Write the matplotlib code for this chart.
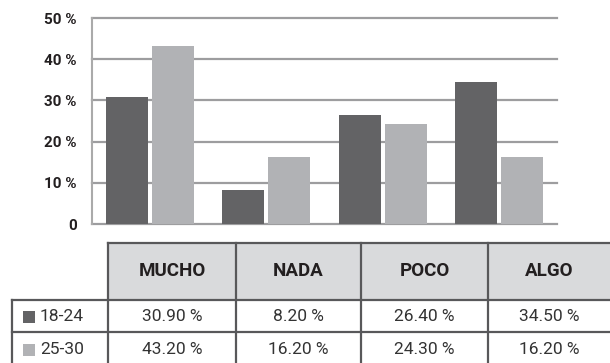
import matplotlib
matplotlib.use("Agg")
import matplotlib.pyplot as plt
from matplotlib.patches import Rectangle
from matplotlib.lines import Line2D
import numpy as np

categories = ["MUCHO", "NADA", "POCO", "ALGO"]
series_names = ["18-24", "25-30"]
values_18_24 = [30.90, 8.20, 26.40, 34.50]
values_25_30 = [43.20, 16.20, 24.30, 16.20]
y_ticks = [0, 10, 20, 30, 40, 50]
y_tick_labels = ["0", "10 %", "20 %", "30 %", "40 %", "50 %"]

dark = "#636365"
light = "#b1b2b5"
grid_c = "#9d9d9f"
border_c = "#58585a"
header_fill = "#d9dadc"
text_c = "#231f20"

W, H = 610, 363
fig = plt.figure(figsize=(W / 100, H / 100), dpi=100)

def fx(px):
    return px / W

def fy(py):
    return 1 - py / H

# bar axes
ax = fig.add_axes([fx(92), fy(224), fx(557) - fx(92), fy(18) - fy(224)])
x = np.arange(len(categories))
bw = 0.361
off = 0.198
ax.bar(x - off, values_18_24, bw, color=dark, zorder=2)
ax.bar(x + off, values_25_30, bw, color=light, zorder=2)
ax.set_xlim(-0.5, 3.5)
ax.set_ylim(0, 50)
for t in y_ticks:
    ax.axhline(t, color=grid_c, lw=1.6, zorder=0, clip_on=False)
for s in ["top", "right", "bottom"]:
    ax.spines[s].set_visible(False)
ax.spines["left"].set_color("#aaaaaa")
ax.spines["left"].set_linewidth(1.5)
ax.set_xticks([])
ax.set_yticks(y_ticks)
ax.set_yticklabels(y_tick_labels, fontfamily="Roboto", fontweight="bold",
                   fontsize=11, color=text_c)
ax.tick_params(axis="y", length=0, pad=11)

# table
col_edges = [108, 236, 361, 488, 640]
label_left = 12
y_top, y_hdr, y_r1, y_bot = 243, 300, 332, 380

fig.add_artist(Rectangle((fx(col_edges[0]), fy(y_hdr)), fx(col_edges[-1]) - fx(col_edges[0]),
                         fy(y_top) - fy(y_hdr), transform=fig.transFigure,
                         facecolor=header_fill, edgecolor="none", zorder=1))

def hline(y, x0, x1):
    fig.add_artist(Line2D([fx(x0), fx(x1)], [fy(y), fy(y)], transform=fig.transFigure,
                          color=border_c, lw=1.6, zorder=3))

def vline(x_, y0, y1):
    fig.add_artist(Line2D([fx(x_), fx(x_)], [fy(y0), fy(y1)], transform=fig.transFigure,
                          color=border_c, lw=1.6, zorder=3))

hline(y_top, col_edges[0], col_edges[-1])
hline(y_hdr, label_left, col_edges[-1])
hline(y_r1, label_left, col_edges[-1])
vline(label_left, y_hdr, y_bot)
for cx in col_edges[:-1]:
    vline(cx, y_top, y_bot)

col_centers = [172, 298.5, 424.5, 549]
for c, cat in zip(col_centers, categories):
    fig.text(fx(c), fy(271.5), cat, ha="center", va="center", fontfamily="Roboto",
             fontweight="bold", fontsize=13.5, color=text_c)

row_centers = [316.5, 350]
all_vals = [values_18_24, values_25_30]
colors = [dark, light]
for rc, name, vals, col in zip(row_centers, series_names, all_vals, colors):
    fig.add_artist(Rectangle((fx(23), fy(rc + 6)), fx(12), fy(0) - fy(12),
                             transform=fig.transFigure, facecolor=col, edgecolor="none"))
    fig.text(fx(40), fy(rc), name, ha="left", va="center", fontfamily="Roboto",
             fontweight="normal", fontsize=12.5, color="#333333")
    for c, v in zip(col_centers, vals):
        fig.text(fx(c), fy(rc), f"{v:.2f} %", ha="center", va="center",
                 fontfamily="Roboto", fontweight="normal", fontsize=12.5, color="#333333")

fig.savefig("out.png", dpi=100)
